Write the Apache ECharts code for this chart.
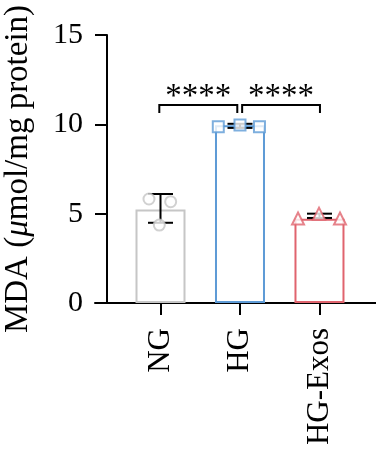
<!DOCTYPE html>
<html>
<head>
<meta charset="utf-8">
<script src="https://cdn.jsdelivr.net/npm/echarts@6/dist/echarts.min.js"></script>
<style>
  html, body { margin: 0; padding: 0; background: #fff; }
  #chart { width: 376px; height: 451px; }
</style>
</head>
<body>
<div id="chart"></div>
<script>
// groups and where they sit on the x scale
const groups = ['NG', 'HG', 'HG-Exos']
const groupPos = [1, 2, 3]
const colors = ['#c6c6c6', '#5e9bd6', '#e0646e']
const symbols = ['emptyCircle', 'emptyRect', 'emptyTriangle']

// bar heights (means)
const means = [5.24, 9.95, 4.72]
// error bar ends
const errLow = [4.49, 9.8, 4.76]
const errHigh = [6.1, 10.03, 5.0]

// individual points (x is jittered position, y is value)
const ngX = [0.855, 1.128, 0.985]
const ngY = [5.82, 5.67, 4.36]
const hgX = [1.727, 2.0, 2.245]
const hgY = [9.86, 9.96, 9.86]
const exosX = [2.73, 2.994, 3.258]
const exosY = [4.73, 5.0, 4.73]

// significance brackets: [from, to, height]
const brackets = [[0.985, 1.966, 11.08], [2.027, 3.006, 11.08]]
const bracketLabels = ['****', '****']

const yTicks = [0, 5, 10, 15]

const chart = echarts.init(document.getElementById('chart'))
const serif = 'Liberation Serif'

const pointSets = [[ngX, ngY], [hgX, hgY], [exosX, exosY]]

const option = {
  animation: false,
  grid: { left: 95, right: 0, top: 35, bottom: 148, outerBoundsMode: 'none' },
  xAxis: {
    type: 'value',
    min: 0.176,
    max: 3.711,
    splitLine: { show: false },
    axisLine: { show: true, lineStyle: { color: '#000', width: 2 } },
    axisTick: { show: true, customValues: groupPos, length: 12, lineStyle: { color: '#000', width: 2 } },
    axisLabel: {
      customValues: groupPos,
      rotate: 90,
      margin: 25,
      color: '#000',
      fontFamily: serif,
      fontSize: 31,
      formatter: v => groups[groupPos.indexOf(Math.round(v))] || ''
    }
  },
  yAxis: {
    type: 'value',
    min: 0,
    max: 15,
    interval: 5,
    offset: -12,
    splitLine: { show: false },
    axisLine: { show: true, lineStyle: { color: '#000', width: 2 } },
    axisTick: { show: true, length: 12, lineStyle: { color: '#000', width: 2 } },
    axisLabel: { margin: 24, color: '#000', fontFamily: serif, fontSize: 30 },
    name: '{a|MDA (}{i|μ}{a|mol/mg protein)}',
    nameLocation: 'middle',
    nameRotate: 90,
    nameGap: 72,
    nameTextStyle: {
      color: '#000',
      fontFamily: serif,
      fontSize: 33,
      rich: {
        a: { fontFamily: serif, fontSize: 33, color: '#000' },
        i: { fontFamily: serif, fontSize: 33, color: '#000', fontStyle: 'italic' }
      }
    }
  },
  series: [
    {
      type: 'bar',
      barWidth: 50,
      z: 2,
      data: means.map((m, i) => ({
        value: [groupPos[i], m],
        itemStyle: { color: '#fff', borderColor: colors[i], borderWidth: 2 }
      }))
    },
    {
      type: 'custom',
      z: 3,
      data: groupPos.map((p, i) => [p, errLow[i], errHigh[i]]),
      renderItem: (params, api) => {
        const x = api.value(0)
        const lo = api.coord([x, api.value(1)])
        const hi = api.coord([x, api.value(2)])
        const half = 12.5
        const style = { stroke: '#000', lineWidth: 2 }
        return {
          type: 'group',
          children: [
            { type: 'line', shape: { x1: lo[0], y1: lo[1], x2: hi[0], y2: hi[1] }, style },
            { type: 'line', shape: { x1: hi[0] - half, y1: hi[1], x2: hi[0] + half, y2: hi[1] }, style },
            { type: 'line', shape: { x1: lo[0] - half, y1: lo[1], x2: lo[0] + half, y2: lo[1] }, style }
          ]
        }
      }
    },
    ...pointSets.map((set, i) => ({
      type: 'scatter',
      z: 4,
      symbol: symbols[i],
      symbolSize: i === 2 ? 12 : 11,
      itemStyle: { color: colors[i], borderWidth: 2 },
      data: set[0].map((x, j) => [x, set[1][j]])
    })),
    {
      type: 'custom',
      z: 5,
      data: brackets,
      renderItem: (params, api) => {
        const a = api.coord([api.value(0), api.value(2)])
        const b = api.coord([api.value(1), api.value(2)])
        const drop = 8
        const style = { stroke: '#000', lineWidth: 2, fill: null }
        return {
          type: 'group',
          children: [
            {
              type: 'polyline',
              shape: { points: [[a[0], a[1] + drop], [a[0], a[1]], [b[0], b[1]], [b[0], b[1] + drop]] },
              style
            },
            {
              type: 'text',
              x: (a[0] + b[0]) / 2,
              y: a[1] + 9,
              style: {
                text: bracketLabels[params.dataIndex],
                font: '33px "Liberation Serif"',
                fill: '#000',
                align: 'center',
                verticalAlign: 'bottom'
              }
            }
          ]
        }
      }
    }
  ]
}

chart.setOption(option)
</script>
</body>
</html>
